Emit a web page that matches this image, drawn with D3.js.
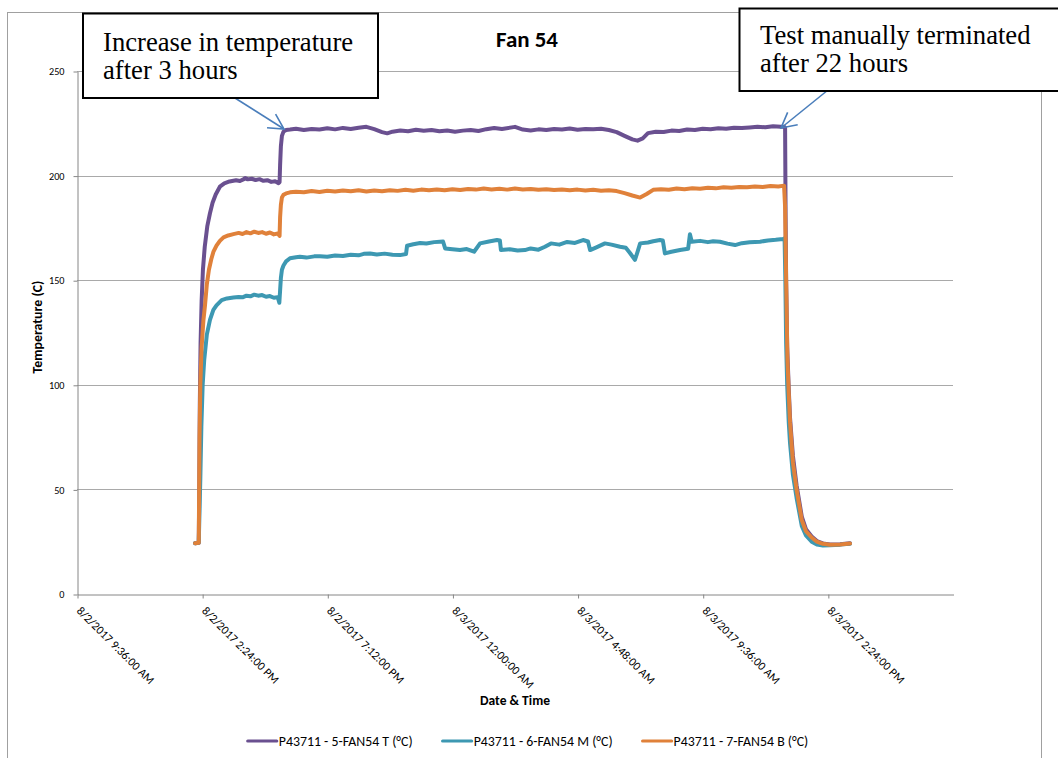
<!DOCTYPE html>
<html><head><meta charset="utf-8">
<script src="https://cdn.jsdelivr.net/npm/d3@7"></script>
<style>html,body{margin:0;padding:0;background:#fff;} svg{display:block;}</style>
</head><body>
<svg id="chart" width="1058" height="758"></svg>
<script>
// ---------------- DATA ----------------
const chartTitle = "Fan 54";
const xAxisTitle = "Date & Time";
const yAxisTitle = "Temperature (C)";
const seriesNames = ["P43711 - 5-FAN54 T (°C)", "P43711 - 6-FAN54 M (°C)", "P43711 - 7-FAN54 B (°C)"];
// time is hours since 8/2/2017 00:00
const xDomainHours = [9.6, 43.2];
const xTickHours = [9.6, 14.4, 19.2, 24, 28.8, 33.6, 38.4];
const yTickValues = [0, 50, 100, 150, 200, 250];
const annotationTexts = [["Increase in temperature", "after 3 hours"], ["Test manually terminated", "after 22 hours"]];

const seriesT = [
[14.13,24.3],[14.27,24.5],[14.29,50],[14.31,90],[14.34,120],[14.38,140],[14.43,155],[14.5,166],[14.6,176],[14.7,182],
[14.8,187],[14.92,191],[15.08,194.7],[15.25,196.3],[15.45,197.2],[15.7,197.8],[15.85,197.4],[16.0,198.3],[16.05,198.8],
[16.15,198.2],[16.3,198.5],[16.45,197.9],[16.6,198.3],[16.75,197.5],[16.9,197.8],[17.05,197],[17.2,197.3],[17.33,196.4],
[17.37,196.8],[17.39,205],[17.42,214],[17.46,219],[17.52,221],[17.62,221.8],[17.77,222],
[18.0,222.4],[18.3,221.8],[18.6,222.3],[18.9,222],[19.2,222.6],[19.5,222.1],[19.8,222.8],[20.1,222.3],[20.4,222.9],
[20.7,223.3],[21.0,222.2],[21.3,220.8],[21.5,220.2],[21.7,221],[22.0,221.6],[22.3,221.2],[22.6,221.9],[22.9,221.4],
[23.2,221.8],[23.5,221.2],[23.8,221.6],[24.1,221],[24.4,221.5],[24.7,221.8],[25.0,221.3],[25.3,222.2],[25.6,222.8],
[25.9,222.3],[26.4,223.3],[26.7,222],[27.0,221.6],[27.3,222.1],[27.6,221.8],[27.9,222.3],[28.2,222],[28.5,222.5],
[28.8,221.9],[29.1,222.3],[29.4,222.1],[29.7,222.4],[30.0,221.8],[30.3,220.8],[30.6,219],[30.9,217.3],[31.1,216.7],
[31.3,217.8],[31.5,220.3],[31.8,221],[32.1,220.8],[32.4,221.5],[32.7,221.3],[33.0,222],[33.3,221.8],[33.6,222.4],
[33.9,222.2],[34.2,222.6],[34.5,222.4],[34.8,222.9],[35.1,222.7],[35.4,223],[35.7,223.3],[36.0,223.1],[36.3,223.6],
[36.6,223.3],[36.72,223.4],[36.76,222.8],[36.78,180],[36.80,150],[36.84,118],[36.90,98],[36.95,84],[37.06,66],
[37.20,52],[37.40,37],[37.56,31],[37.78,27.5],[37.98,25.3],[38.21,24.2],[38.48,23.7],[38.87,23.8],[39.25,24.3]
];

const seriesM = [
[14.13,24.3],[14.27,24.5],[14.30,40],[14.33,55],[14.37,80],[14.42,100],[14.48,112],[14.58,124],[14.7,131],[14.83,135.8],
[14.95,138],[15.15,140.5],[15.35,141.3],[15.6,141.7],[15.8,142],[15.95,141.8],[16.1,142.6],[16.25,142.3],[16.4,143.1],
[16.55,142.6],[16.7,142.9],[16.85,142.1],[17.0,142.4],[17.15,141.6],[17.3,141.9],[17.36,139.2],[17.39,145],[17.42,151],
[17.46,155],[17.52,157],[17.62,159],[17.77,160.5],
[18.0,161],[18.15,161.2],[18.4,160.8],[18.7,161.4],[18.92,161.5],[19.2,161.2],[19.5,161.8],[19.8,161.6],[20.1,162.2],
[20.4,161.9],[20.6,162.6],[20.84,162.8],[21.1,162.3],[21.4,162.7],[21.7,162.2],[21.99,162],[22.22,162.5],[22.26,166.5],
[22.5,167.2],[22.76,167.8],[23.0,167.5],[23.3,168.2],[23.52,168.4],[23.64,168.5],[23.72,165.2],[24.0,164.8],[24.29,164.4],
[24.55,164.9],[24.83,163.6],[25.06,167.6],[25.4,168.5],[25.71,169.2],[25.82,169],[25.86,164.4],[26.2,164.8],[26.5,164.2],
[26.78,164.4],[27.0,165.2],[27.3,164.6],[27.55,166],[27.78,167.6],[28.1,167],[28.4,168.3],[28.7,167.8],[29.01,169.2],
[29.2,168.5],[29.28,164.4],[29.5,165.6],[29.85,167.6],[30.1,167],[30.43,166],[30.65,165.5],[30.81,163],[31.0,159.7],
[31.1,163.5],[31.2,167.6],[31.5,168],[31.7,168.6],[31.96,169.2],[32.07,169],[32.15,162.8],[32.4,163.6],[32.73,164.4],
[33.04,165],[33.11,172],[33.18,168.4],[33.5,168.8],[33.8,168.2],[34.0,168.6],[34.26,168.4],[34.55,167.5],[34.84,166.8],
[35.1,167.7],[35.4,168.1],[35.8,168.4],[36.1,169],[36.4,169.3],[36.68,169.7],[36.74,170],[36.77,150],[36.80,120],
[36.84,100],[36.90,82],[36.95,72],[37.06,57],[37.20,46],[37.40,32.5],[37.56,28],[37.78,25],[37.98,23.6],[38.21,23.2],
[38.48,23.3],[38.87,23.6],[39.25,24]
];

const seriesB = [
[14.13,24.3],[14.27,24.5],[14.30,75],[14.33,100],[14.38,118],[14.45,131],[14.51,138],[14.58,148],[14.66,155],[14.75,160],
[14.83,163.5],[14.95,166.5],[15.08,168.8],[15.22,170.5],[15.4,171.4],[15.6,172],[15.8,172.6],[15.95,172.1],[16.1,173],
[16.25,172.4],[16.4,173.2],[16.55,172.6],[16.7,173],[16.85,172.2],[17.0,172.8],[17.15,171.9],[17.3,172.3],[17.37,171.2],
[17.39,180],[17.42,186],[17.46,189.5],[17.52,190.8],[17.62,191.5],[17.77,192],
[18.0,192.3],[18.3,192],[18.6,192.6],[18.9,192.2],[19.2,192.8],[19.5,192.4],[19.8,192.9],[20.1,192.5],[20.4,193],
[20.7,192.4],[21.0,192.9],[21.3,192.5],[21.6,193],[21.9,192.7],[22.2,193.2],[22.5,192.8],[22.8,193.3],[23.1,193],
[23.4,193.4],[23.7,193],[24.0,193.5],[24.3,193.1],[24.6,193.6],[24.9,193.3],[25.2,193.8],[25.5,193.4],[25.8,193.7],
[26.1,193.3],[26.4,193.8],[26.7,193.4],[27.0,193.6],[27.3,193.2],[27.6,193.5],[27.9,193.1],[28.2,193.4],[28.5,193],
[28.8,193.3],[29.1,192.9],[29.4,193.2],[29.7,192.8],[30.0,193],[30.3,192.6],[30.6,191.6],[30.9,190.5],[31.2,189.5],
[31.45,191.2],[31.7,193.2],[32.0,193.5],[32.3,193.2],[32.6,193.8],[32.9,193.5],[33.2,194],[33.5,193.7],[33.8,194.2],
[34.1,193.9],[34.4,194.4],[34.7,194.2],[35.0,194.6],[35.3,194.4],[35.6,194.8],[35.9,194.5],[36.2,195],[36.5,194.8],
[36.72,195.2],[36.76,185],[36.80,150],[36.85,112],[36.90,96],[36.95,82],[37.06,63],[37.20,50],[37.40,35.4],[37.56,30],
[37.78,27],[37.98,25],[38.21,24],[38.48,23.5],[38.87,23.7],[39.25,24.1]
];

// ---------------- LAYOUT ----------------
const W = 1058, H = 758;
const plot = {left: 77, right: 953, top: 71, bottom: 594};
const colors = ["#6a5090", "#3d98b2", "#e0813a"];
const SANS = "Carlito, Lato, 'Open Sans', sans-serif";
const SERIF = "'Liberation Serif', 'Times New Roman', serif";
const timeOrigin = new Date(2017, 7, 2, 0, 0, 0).getTime();
const toDate = h => new Date(timeOrigin + Math.round(h * 3600000));

const svg = d3.select("#chart");
svg.append("rect").attr("width", W).attr("height", H).attr("fill", "#fff");

function fitWidth(sel, target) {
  sel.style("font-size", "20px");
  const w = sel.node().getComputedTextLength();
  const fs = 20 * target / w;
  sel.style("font-size", fs + "px");
  return fs;
}

// chart-area border
svg.append("rect").attr("x", 7.5).attr("y", 12.5).attr("width", 1034).attr("height", 800)
  .attr("fill", "none").attr("stroke", "#a0a0a0").attr("stroke-width", 1);

const x = d3.scaleTime().domain(xDomainHours.map(toDate)).range([plot.left, plot.right]);
const y = d3.scaleLinear().domain([0, 250]).range([plot.bottom, plot.top]);

// gridlines
svg.append("g").selectAll("line").data(yTickValues.filter(v => v > 0)).join("line")
  .attr("x1", plot.left).attr("x2", plot.right)
  .attr("y1", d => Math.round(y(d)) + 0.5).attr("y2", d => Math.round(y(d)) + 0.5)
  .attr("stroke", "#a9a9a9").attr("stroke-width", 1);

// y axis
const yAxis = svg.append("g").attr("transform", `translate(${plot.left + 0.5},0.5)`)
  .call(d3.axisLeft(y).tickValues(yTickValues).tickSize(4).tickPadding(9).tickSizeOuter(0));
yAxis.select(".domain").attr("stroke", "#868686");
yAxis.selectAll(".tick line").attr("stroke", "#868686");
const yLabels = yAxis.selectAll(".tick text").attr("fill", "#000").style("font-family", SANS);
const yfs = fitWidth(yAxis.selectAll(".tick text").filter(d => d === 250), 15.5);
yLabels.style("font-size", yfs + "px");

// x axis
const xAxis = svg.append("g").attr("transform", `translate(0.5,${plot.bottom + 0.5})`)
  .call(d3.axisBottom(x).tickValues(xTickHours.map(toDate)).tickSize(4).tickSizeOuter(0)
    .tickFormat(d3.timeFormat("%-m/%-d/%Y %-I:%M:%S %p")));
xAxis.select(".domain").attr("stroke", "#868686");
xAxis.selectAll(".tick line").attr("stroke", "#868686");
const xLabels = xAxis.selectAll(".tick text")
  .attr("fill", "#000").style("font-family", SANS)
  .attr("text-anchor", "start").attr("x", 0).attr("y", 0).attr("dy", 0)
  .attr("transform", "translate(-2,17) rotate(45)");
const xfs = fitWidth(xAxis.selectAll(".tick text").filter((d, i) => i === 0), 104);
xLabels.style("font-size", xfs + "px");

// series
const line = d3.line().x(d => x(toDate(d[0]))).y(d => y(d[1]));
[seriesT, seriesM, seriesB].forEach((s, i) => {
  svg.append("path").datum(s).attr("d", line).attr("fill", "none")
    .attr("stroke", colors[i]).attr("stroke-width", 4)
    .attr("stroke-linejoin", "round").attr("stroke-linecap", "round");
});

// titles
const title = svg.append("text").attr("x", 527).attr("y", 47).attr("text-anchor", "middle")
  .style("font-family", SANS).style("font-weight", "bold").text(chartTitle);
fitWidth(title, 62);
const xt = svg.append("text").attr("x", (plot.left + plot.right) / 2).attr("y", 705).attr("text-anchor", "middle")
  .style("font-family", SANS).style("font-weight", "bold").text(xAxisTitle);
fitWidth(xt, 70);
const yt = svg.append("text").attr("transform", "translate(42,327) rotate(-90)").attr("text-anchor", "middle")
  .style("font-family", SANS).style("font-weight", "bold").text(yAxisTitle);
fitWidth(yt, 93);

// legend
const lg = svg.append("g");
let cx = 0;
let lfs = null;
seriesNames.forEach((name, i) => {
  const g = lg.append("g").attr("transform", `translate(${cx},0)`);
  g.append("line").attr("x1", 0).attr("x2", 29).attr("y1", 0).attr("y2", 0)
    .attr("stroke", colors[i]).attr("stroke-width", 3.2).attr("stroke-linecap", "round");
  const t = g.append("text").attr("x", 31).attr("y", 0).attr("dy", "0.35em")
    .style("font-family", SANS).text(name);
  if (lfs === null) lfs = fitWidth(t, 134); else t.style("font-size", lfs + "px");
  cx += 31 + t.node().getComputedTextLength() + 30;
});
const legendWidth = cx - 30;
lg.attr("transform", `translate(${528 - legendWidth / 2},741)`);

// annotations
const defs = svg.append("defs");
defs.append("marker").attr("id", "openArrow").attr("markerUnits", "userSpaceOnUse")
  .attr("viewBox", "-16 -10 20 20").attr("refX", 0).attr("refY", 0)
  .attr("markerWidth", 20).attr("markerHeight", 20).attr("orient", "auto")
  .append("path").attr("d", "M-15,-8L0,0L-15,8").attr("fill", "none")
  .attr("stroke", "#4a7ebb").attr("stroke-width", 1.6);

const boxes = [
  {x: 83, y: 13.5, w: 295, h: 84.5, tx: 103, ty: [50.7, 79.4], from: [235, 98], to: [284, 129]},
  {x: 739.5, y: 8.5, w: 330, h: 82.5, tx: 760, ty: [43.8, 72.4], from: [828, 90], to: [781, 128]}
];
boxes.forEach((b, i) => {
  svg.append("line").attr("x1", b.from[0]).attr("y1", b.from[1]).attr("x2", b.to[0]).attr("y2", b.to[1])
    .attr("stroke", "#4a7ebb").attr("stroke-width", 1.6).attr("marker-end", "url(#openArrow)");
  svg.append("rect").attr("x", b.x).attr("y", b.y).attr("width", b.w).attr("height", b.h)
    .attr("fill", "#fff").attr("stroke", "#000").attr("stroke-width", 2);
  annotationTexts[i].forEach((txt, j) => {
    svg.append("text").attr("x", b.tx).attr("y", b.ty[j])
      .style("font-family", SERIF).style("font-size", "26.67px").attr("fill", "#000").text(txt);
  });
});
</script>
</body></html>
